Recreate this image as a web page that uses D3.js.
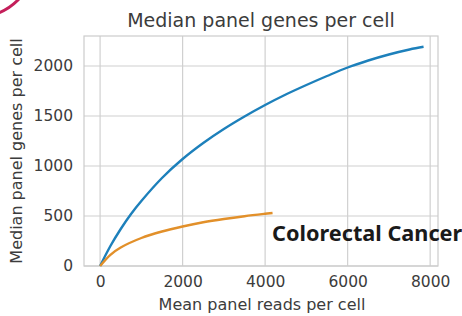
<!DOCTYPE html>
<html><head><meta charset="utf-8">
<script src="https://cdn.jsdelivr.net/npm/d3@7"></script>
<style>body{margin:0;background:#fff}svg{display:block}</style>
</head><body>
<script>
const title = "Median panel genes per cell";
const xLabel = "Mean panel reads per cell";
const yLabel = "Median panel genes per cell";
const annotation = "Colorectal Cancer";
const xTicks = [0, 2000, 4000, 6000, 8000];
const yTicks = [0, 500, 1000, 1500, 2000];
const blueX = [0, 250, 500, 750, 1000, 1500, 2000, 2500, 3000, 3500, 4000, 4500, 5000, 5500, 6000, 6500, 7000, 7500, 7840];
const blueY = [0, 200, 370, 520, 650, 880, 1070, 1230, 1370, 1495, 1610, 1715, 1810, 1900, 1985, 2055, 2115, 2165, 2192];
const orangeX = [0, 250, 500, 1000, 1500, 2000, 2500, 3000, 3500, 4000, 4180];
const orangeY = [0, 112, 185, 280, 345, 395, 437, 470, 498, 522, 530];

const W = 462, H = 316;
const svg = d3.select("body").append("svg").attr("width", W).attr("height", H);

// decorative arc at top-left
svg.append("circle").attr("cx", -20).attr("cy", -37).attr("r", 53)
  .attr("fill", "none").attr("stroke", "#c41e5a").attr("stroke-width", 3);

const L = 84, R = 438, T = 36, B = 266;
const x = d3.scaleLinear().domain([-390, 8190]).range([L, R]);
const y = d3.scaleLinear().domain([0, 2300]).range([B, T]);

const g = svg.append("g");
g.append("rect").attr("x", L).attr("y", T).attr("width", R - L).attr("height", B - T)
  .attr("fill", "#fff");

// grid
g.selectAll(".gx").data(xTicks).join("line")
  .attr("x1", d => x(d)).attr("x2", d => x(d)).attr("y1", T).attr("y2", B)
  .attr("stroke", "#d0d0d0").attr("stroke-width", 1.2);
g.selectAll(".gy").data(yTicks).join("line")
  .attr("x1", L).attr("x2", R).attr("y1", d => y(d)).attr("y2", d => y(d))
  .attr("stroke", "#d0d0d0").attr("stroke-width", 1.2);

const xAxis = d3.axisBottom(x).tickValues(xTicks).tickSize(0).tickPadding(10).tickFormat(d3.format("d"));
const yAxis = d3.axisLeft(y).tickValues(yTicks).tickSize(0).tickPadding(11).tickFormat(d3.format("d"));
const ax = svg.append("g").attr("transform", `translate(0,${B})`).call(xAxis);
const ay = svg.append("g").attr("transform", `translate(${L},0)`).call(yAxis);
[ax, ay].forEach(a => {
  a.select(".domain").remove();
  a.selectAll("text").attr("font-family", "DejaVu Sans").attr("font-size", 15.5).attr("fill", "#3c3c3c");
});

// border
svg.append("rect").attr("x", L).attr("y", T).attr("width", R - L).attr("height", B - T)
  .attr("fill", "none").attr("stroke", "#cccccc").attr("stroke-width", 1.2);

// lines
const line = d3.line().x(d => x(d[0])).y(d => y(d[1])).curve(d3.curveCatmullRom.alpha(0.5));
svg.append("path").datum(blueX.map((v, i) => [v, blueY[i]]))
  .attr("d", line).attr("fill", "none").attr("stroke", "#1d80bb").attr("stroke-width", 2.4);
svg.append("path").datum(orangeX.map((v, i) => [v, orangeY[i]]))
  .attr("d", line).attr("fill", "none").attr("stroke", "#e2902a").attr("stroke-width", 2.4);

// title and labels
svg.append("text").attr("x", (L + R) / 2).attr("y", 27).attr("text-anchor", "middle")
  .attr("font-family", "DejaVu Sans").attr("font-size", 19).attr("fill", "#3c3c3c").text(title);
svg.append("text").attr("x", (L + R) / 2 + 1).attr("y", 310).attr("text-anchor", "middle")
  .attr("font-family", "DejaVu Sans").attr("font-size", 16).attr("fill", "#3c3c3c").text(xLabel);
svg.append("text").attr("transform", `translate(22,${(T + B) / 2}) rotate(-90)`).attr("text-anchor", "middle")
  .attr("font-family", "DejaVu Sans").attr("font-size", 16).attr("fill", "#3c3c3c").text(yLabel);

svg.append("text").attr("x", 272).attr("y", 241)
  .attr("font-family", "Noto Sans").attr("font-weight", "bold").attr("font-size", 21.7)
  .attr("fill", "#1a1a1a").text(annotation);
</script>
</body></html>
